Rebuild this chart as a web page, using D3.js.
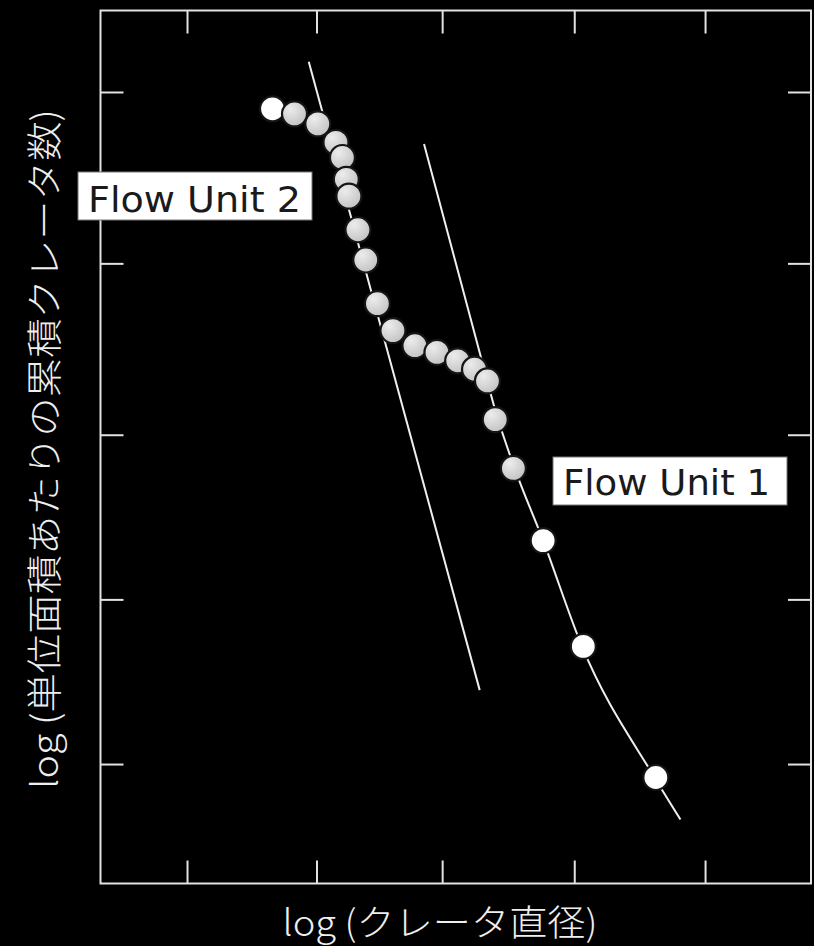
<!DOCTYPE html>
<html>
<head>
<meta charset="utf-8">
<script src="https://cdn.jsdelivr.net/npm/d3@7/dist/d3.min.js"></script>
<style>
body { margin: 0; background: #000; }
</style>
</head>
<body>
<div id="chart"></div>
<script>
// crater counts, both axes in log units
const diameter = [1.66, 1.83, 2.01, 2.15, 2.20, 2.23, 2.25, 2.32, 2.38, 2.47, 2.59, 2.76, 2.93, 3.09, 3.22, 3.32, 3.38, 3.52, 3.75, 4.06, 4.62];
const cumulative = [4.90, 4.87, 4.81, 4.70, 4.61, 4.48, 4.38, 4.18, 4.00, 3.74, 3.58, 3.49, 3.45, 3.40, 3.35, 3.28, 3.05, 2.76, 2.33, 1.70, 0.92];

// fitted curves: Flow Unit 2 is a straight line, Flow Unit 1 bends at the large end
const fit2X = [1.94, 3.26];
const fit2Y = [5.18, 1.44];
const fit1X = [2.83, 3.27, 3.39, 3.53, 3.75, 4.05, 4.61, 4.81];
const fit1Y = [4.69, 3.42, 3.08, 2.76, 2.33, 1.70, 0.92, 0.67];

const xTicks = [1, 2, 2.97, 3.99, 5];
const yTicks = [1, 1.98, 2.96, 3.98, 5];

const xTitle = "log (クレータ直径)";
const yTitle = "log (単位面積あたりの累積クレータ数)";
const unitNames = ["Flow Unit 2", "Flow Unit 1"];

let dimensions = {
    width: 814,
    height: 946,
    margin: {
        top: 10.5,
        right: 3,
        bottom: 62.5,
        left: 100.5,
    },
}
dimensions.boundedWidth = dimensions.width - dimensions.margin.left - dimensions.margin.right;
dimensions.boundedHeight = dimensions.height - dimensions.margin.top - dimensions.margin.bottom;

const svg = d3.select("#chart")
    .append("svg")
    .attr("width", dimensions.width)
    .attr("height", dimensions.height)
    .style("display", "block")
    .style("background", "#000");

const x = d3.scaleLinear()
    .domain([0.332, 5.818])
    .range([dimensions.margin.left, dimensions.margin.left + dimensions.boundedWidth]);

const y = d3.scaleLinear()
    .domain([0.289, 5.485])
    .range([dimensions.margin.top + dimensions.boundedHeight, dimensions.margin.top]);

const defs = svg.append("defs");
const grad = defs.append("radialGradient")
    .attr("id", "grayBall")
    .attr("cx", "35%").attr("cy", "30%").attr("r", "85%");
grad.append("stop").attr("offset", "0%").attr("stop-color", "#ececec");
grad.append("stop").attr("offset", "100%").attr("stop-color", "#bcbcbc");

// ticks, pointing inward on all four sides
const tickLen = 23;
const x0 = dimensions.margin.left, x1 = x0 + dimensions.boundedWidth;
const y0 = dimensions.margin.top, y1 = y0 + dimensions.boundedHeight;

[
    [d3.axisBottom(x).tickValues(xTicks), `translate(0, ${y1})`],
    [d3.axisTop(x).tickValues(xTicks), `translate(0, ${y0})`],
    [d3.axisLeft(y).tickValues(yTicks), `translate(${x0}, 0)`],
    [d3.axisRight(y).tickValues(yTicks), `translate(${x1}, 0)`],
].forEach(([ax, tr]) => {
    svg.append("g")
        .attr("transform", tr)
        .call(ax.tickSize(-tickLen).tickSizeOuter(0).tickFormat(""))
        .call(g => g.select(".domain").remove())
        .call(g => g.selectAll("line").attr("stroke", "#e2e2e2").attr("stroke-width", 2));
});

svg.append("rect")
    .attr("x", x0).attr("y", y0)
    .attr("width", x1 - x0).attr("height", y1 - y0)
    .attr("fill", "none")
    .attr("stroke", "#e2e2e2")
    .attr("stroke-width", 2);

// fit lines
const line = d3.line()
    .x(d => x(d[0]))
    .y(d => y(d[1]));

svg.append("path")
    .datum(d3.zip(fit2X, fit2Y))
    .attr("d", line)
    .attr("fill", "none")
    .attr("stroke", "#efefef")
    .attr("stroke-width", 2);

svg.append("path")
    .datum(d3.zip(fit1X, fit1Y))
    .attr("d", line.curve(d3.curveMonotoneX))
    .attr("fill", "none")
    .attr("stroke", "#efefef")
    .attr("stroke-width", 2);

// points
svg.append("g")
    .selectAll("circle")
    .data(d3.zip(diameter, cumulative))
    .join("circle")
    .attr("cx", d => x(d[0]))
    .attr("cy", d => y(d[1]))
    .attr("r", 12.5)
    .attr("fill", (d, i) => (i === 0 || i >= 18) ? "#ffffff" : "url(#grayBall)")
    .attr("stroke", "#151515")
    .attr("stroke-width", 2.2);

// unit labels
const labelBoxes = [
    { x: 78, y: 172, w: 234, h: 48, tx: 88, ty: 212, tw: 213 },
    { x: 553, y: 457, w: 234, h: 48, tx: 563, ty: 495, tw: 207 },
];
labelBoxes.forEach((b, i) => {
    svg.append("rect")
        .attr("x", b.x).attr("y", b.y)
        .attr("width", b.w).attr("height", b.h)
        .attr("fill", "#fff")
        .attr("stroke", "#777")
        .attr("stroke-width", 1);
    svg.append("text")
        .attr("x", b.tx).attr("y", b.ty)
        .attr("textLength", b.tw)
        .attr("lengthAdjust", "spacingAndGlyphs")
        .style("font-family", "'DejaVu Sans', sans-serif")
        .style("font-size", "36px")
        .style("fill", "#1a1a1a")
        .text(unitNames[i]);
});

// axis titles
svg.append("text")
    .attr("x", 440)
    .attr("y", 936)
    .attr("text-anchor", "middle")
    .attr("textLength", 315)
    .attr("lengthAdjust", "spacingAndGlyphs")
    .style("font-family", "'Noto Sans CJK JP', sans-serif")
    .style("font-size", "36px")
    .style("font-weight", 300)
    .style("fill", "#eeeeee")
    .text(xTitle);

svg.append("text")
    .attr("transform", "translate(58, 449) rotate(-90)")
    .attr("text-anchor", "middle")
    .attr("textLength", 680)
    .attr("lengthAdjust", "spacingAndGlyphs")
    .style("font-family", "'Noto Sans CJK JP', sans-serif")
    .style("font-size", "36px")
    .style("font-weight", 300)
    .style("fill", "#eeeeee")
    .text(yTitle);
</script>
</body>
</html>
